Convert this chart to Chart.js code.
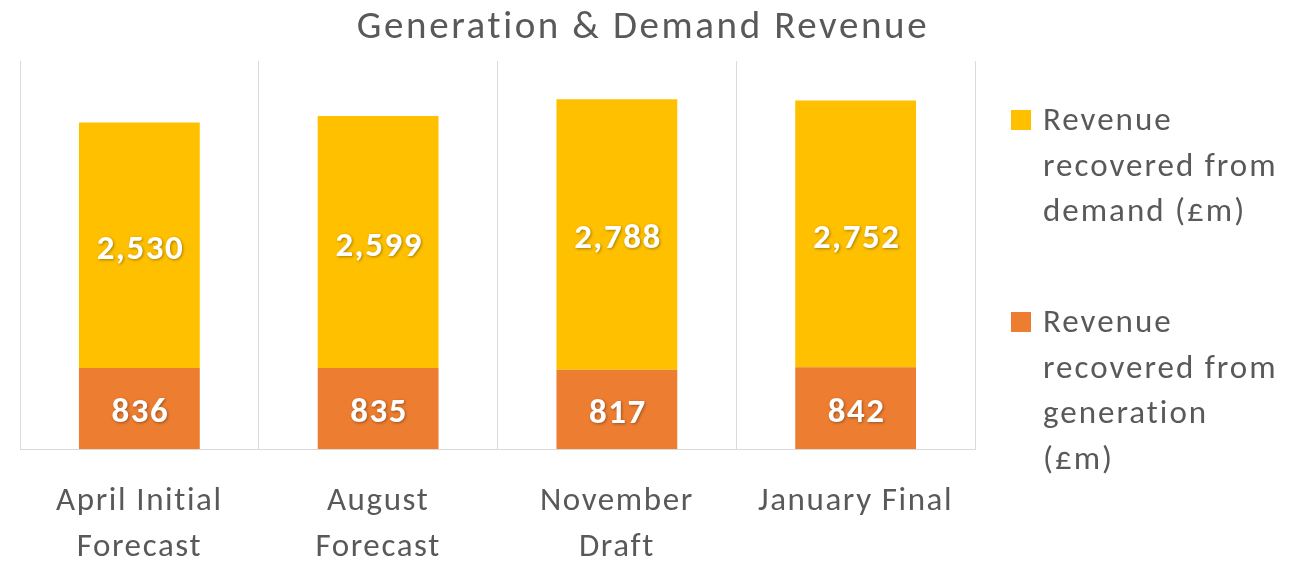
<!DOCTYPE html>
<html>
<head>
<meta charset="utf-8">
<script src="https://cdn.jsdelivr.net/npm/chart.js@4"></script>
<style>
  body { margin: 0; background: #fff; }
</style>
</head>
<body>
<canvas id="chartRevenue" width="1299" height="561"></canvas>
<script>
const categories = [['April Initial', 'Forecast'], ['August', 'Forecast'], ['November', 'Draft'], 'January Final'];
const generation = [836, 835, 817, 842];
const demand = [2530, 2599, 2788, 2752];
const seriesNames = ['Revenue recovered from generation (£m)', 'Revenue recovered from demand (£m)'];
const legendLines = [
  ['Revenue', 'recovered from', 'generation', '(£m)'],
  ['Revenue', 'recovered from', 'demand (£m)']
];
const chartTitle = 'Generation & Demand Revenue';

const fontFamily = 'Carlito, Calibri, Lato, sans-serif';
const textColor = '#595959';

// title centred on the whole picture, not on the plot
const wideTitle = {
  id: 'wideTitle',
  beforeDraw(chart) {
    // the original font is wider, spread the tick labels a bit
    chart.ctx.letterSpacing = '1.6px';
  },
  afterDraw(chart) {
    const ctx = chart.ctx;
    ctx.save();
    ctx.letterSpacing = '2.6px';
    ctx.font = '39px ' + fontFamily;
    ctx.fillStyle = textColor;
    ctx.textAlign = 'center';
    ctx.textBaseline = 'middle';
    ctx.fillText(chartTitle, 643, 28);
    ctx.restore();
    ctx.letterSpacing = '0px';
  }
};

// numbers in the middle of each segment
const valueLabels = {
  id: 'valueLabels',
  afterDatasetsDraw(chart) {
    const ctx = chart.ctx;
    ctx.save();
    ctx.letterSpacing = '1.5px';
    ctx.font = 'bold 35px ' + fontFamily;
    ctx.fillStyle = '#fff';
    ctx.textAlign = 'center';
    ctx.textBaseline = 'middle';
    ctx.shadowColor = 'rgba(0,0,0,0.35)';
    ctx.shadowBlur = 3;
    ctx.shadowOffsetX = 1;
    ctx.shadowOffsetY = 1;
    chart.data.datasets.forEach((ds, i) => {
      chart.getDatasetMeta(i).data.forEach((bar, j) => {
        const { x, y, base } = bar.getProps(['x', 'y', 'base'], true);
        ctx.fillText(ds.data[j].toLocaleString('en-GB'), x + 1, (y + base) / 2 + 5);
      });
    });
    ctx.restore();
  }
};

// legend on the right, wrapped like the excel one
const sideLegend = {
  id: 'sideLegend',
  afterDraw(chart) {
    const ctx = chart.ctx;
    const area = chart.chartArea;
    const boxX = area.right + 36;
    const textX = boxX + 32;
    const lineH = 45.5;
    let top = 110;
    ctx.save();
    ctx.letterSpacing = '2px';
    ctx.font = '33px ' + fontFamily;
    ctx.textBaseline = 'middle';
    for (let i = chart.data.datasets.length - 1; i >= 0; i--) {
      const ds = chart.data.datasets[i];
      ctx.fillStyle = ds.backgroundColor;
      ctx.fillRect(boxX, top, 20, 20);
      ctx.fillStyle = textColor;
      legendLines[i].forEach((line, k) => {
        ctx.fillText(line, textX, top + 12 + k * lineH);
      });
      top += 202;
    }
    ctx.restore();
  }
};

new Chart(document.getElementById('chartRevenue'), {
  type: 'bar',
  data: {
    labels: categories,
    datasets: [{
      label: seriesNames[0],
      data: generation,
      backgroundColor: '#ED7D31'
    }, {
      label: seriesNames[1],
      data: demand,
      backgroundColor: '#FFC000'
    }]
  },
  options: {
    responsive: false,
    animation: false,
    barPercentage: 0.506,
    categoryPercentage: 1,
    layout: {
      padding: { left: 20, right: 324, top: 61, bottom: 0 }
    },
    scales: {
      x: {
        stacked: true,
        grid: { color: '#D9D9D9', drawTicks: false, offset: true },
        border: { color: '#D9D9D9', width: 1 },
        ticks: {
          color: textColor,
          font: { family: fontFamily, size: 33, lineHeight: 1.38 },
          padding: 30,
          maxRotation: 0,
          autoSkip: false
        },
        afterFit(scale) { scale.height = 112; }
      },
      y: {
        stacked: true,
        display: false,
        min: 0,
        max: 4000
      }
    },
    plugins: {
      legend: { display: false },
      tooltip: { enabled: false },
      title: { display: false }
    }
  },
  plugins: [wideTitle, valueLabels, sideLegend]
});
</script>
</body>
</html>
